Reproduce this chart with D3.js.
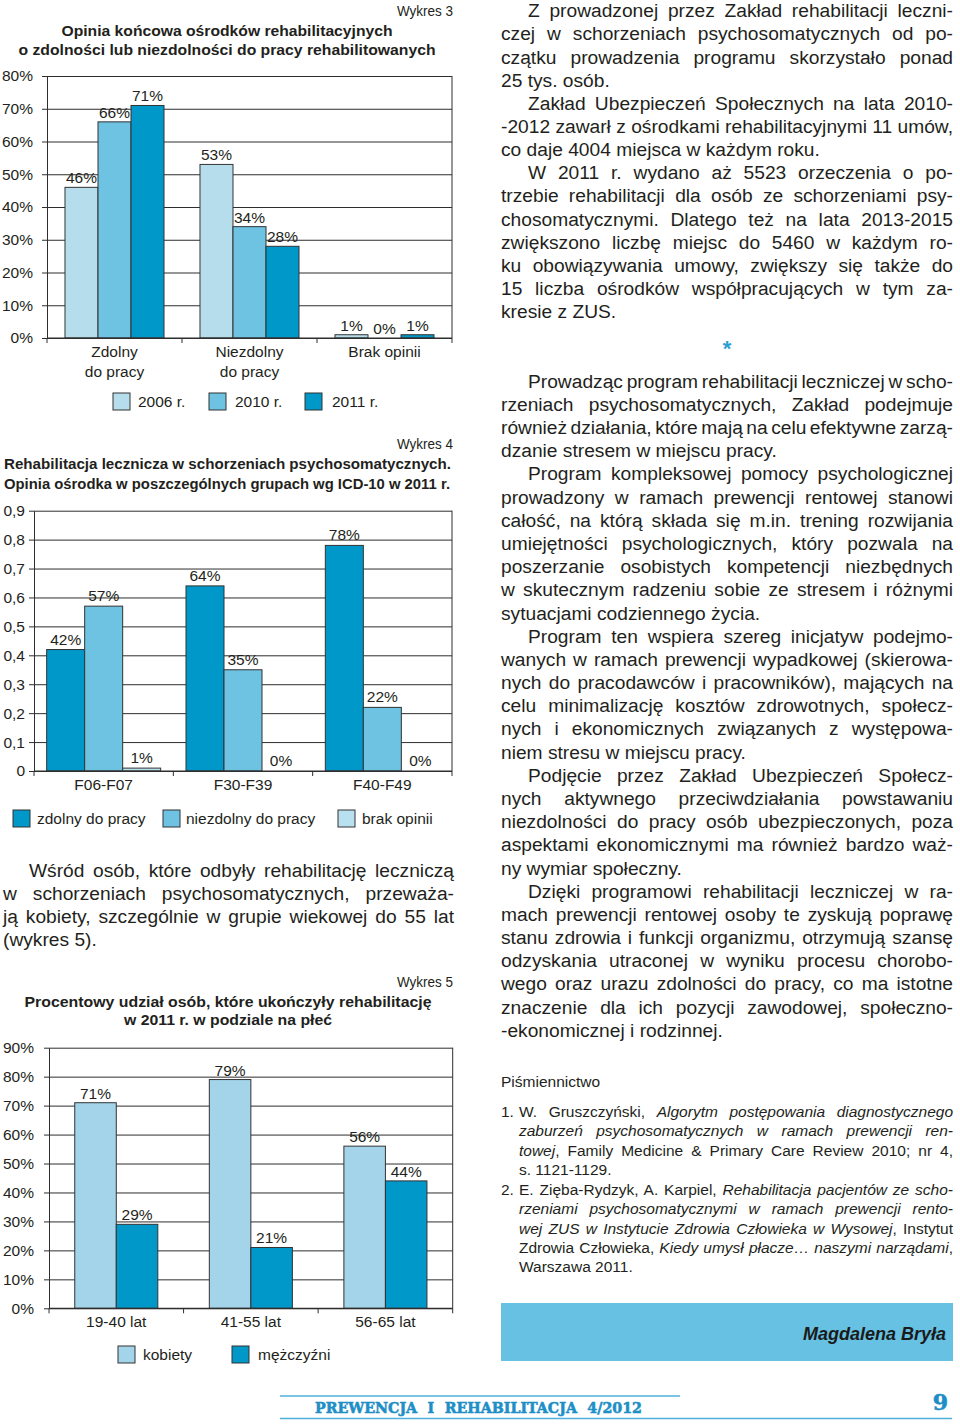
<!DOCTYPE html>
<html><head><meta charset="utf-8">
<script src="https://cdn.jsdelivr.net/npm/d3@7"></script>
<style>
html,body{margin:0;padding:0;background:#fff;}
#page{position:relative;width:960px;height:1424px;overflow:hidden;font-family:"Liberation Sans",Arial,sans-serif;color:#231f20;}
#page svg{position:absolute;left:0;top:0;}
.ln{position:absolute;white-space:pre;}
</style></head><body><div id="page"></div>
<script>
// ---------------- DATA ----------------
// Wykres 3
const w3Title = ["Opinia końcowa ośrodków rehabilitacyjnych", "o zdolności lub niezdolności do pracy rehabilitowanych"];
const w3Categories = [["Zdolny", "do pracy"], ["Niezdolny", "do pracy"], ["Brak opinii"]];
const w3Series = ["2006 r.", "2010 r.", "2011 r."];
const w3Values2006 = [46, 53, 1];
const w3Values2010 = [66, 34, 0];
const w3Values2011 = [71, 28, 1];
const w3Ticks = [0, 10, 20, 30, 40, 50, 60, 70, 80];

// Wykres 4
const w4Title = ["Rehabilitacja lecznicza w schorzeniach psychosomatycznych.", "Opinia ośrodka w poszczególnych grupach wg ICD-10 w 2011 r."];
const w4Categories = [["F06-F07"], ["F30-F39"], ["F40-F49"]];
const w4Series = ["zdolny do pracy", "niezdolny do pracy", "brak opinii"];
const w4Zdolny = [0.42, 0.64, 0.78];
const w4Niezdolny = [0.57, 0.35, 0.22];
const w4Brak = [0.01, 0, 0];
const w4Ticks = [0, 0.1, 0.2, 0.3, 0.4, 0.5, 0.6, 0.7, 0.8, 0.9];

// Wykres 5
const w5Title = ["Procentowy udział osób, które ukończyły rehabilitację", "w 2011 r. w podziale na płeć"];
const w5Categories = [["19-40 lat"], ["41-55 lat"], ["56-65 lat"]];
const w5Series = ["kobiety", "mężczyźni"];
const w5Kobiety = [71, 79, 56];
const w5Mezczyzni = [29, 21, 44];
const w5Ticks = [0, 10, 20, 30, 40, 50, 60, 70, 80, 90];

// Texts
const leftParagraph = [
  "Wśród osób, które odbyły rehabilitację leczniczą",
  "w schorzeniach psychosomatycznych, przeważa-",
  "ją kobiety, szczególnie w grupie wiekowej do 55 lat",
  "(wykres 5)."
];
const rightParagraphsA = [
  ["Z prowadzonej przez Zakład rehabilitacji leczni-", "czej w schorzeniach psychosomatycznych od po-", "czątku prowadzenia programu skorzystało ponad", "25 tys. osób."],
  ["Zakład Ubezpieczeń Społecznych na lata 2010-", "-2012 zawarł z ośrodkami rehabilitacyjnymi 11 umów,", "co daje 4004 miejsca w każdym roku."],
  ["W 2011 r. wydano aż 5523 orzeczenia o po-", "trzebie rehabilitacji dla osób ze schorzeniami psy-", "chosomatycznymi. Dlatego też na lata 2013-2015", "zwiększono liczbę miejsc do 5460 w każdym ro-", "ku obowiązywania umowy, zwiększy się także do", "15 liczba ośrodków współpracujących w tym za-", "kresie z ZUS."]
];
const rightParagraphsB = [
  ["Prowadząc program rehabilitacji leczniczej w scho-", "rzeniach psychosomatycznych, Zakład podejmuje", "również działania, które mają na celu efektywne zarzą-", "dzanie stresem w miejscu pracy."],
  ["Program kompleksowej pomocy psychologicznej", "prowadzony w ramach prewencji rentowej stanowi", "całość, na którą składa się m.in. trening rozwijania", "umiejętności psychologicznych, który pozwala na", "poszerzanie osobistych kompetencji niezbędnych", "w skutecznym radzeniu sobie ze stresem i różnymi", "sytuacjami codziennego życia."],
  ["Program ten wspiera szereg inicjatyw podejmo-", "wanych w ramach prewencji wypadkowej (skierowa-", "nych do pracodawców i pracowników), mających na", "celu minimalizację kosztów zdrowotnych, społecz-", "nych i ekonomicznych związanych z występowa-", "niem stresu w miejscu pracy."],
  ["Podjęcie przez Zakład Ubezpieczeń Społecz-", "nych aktywnego przeciwdziałania powstawaniu", "niezdolności do pracy osób ubezpieczonych, poza", "aspektami ekonomicznymi ma również bardzo waż-", "ny wymiar społeczny."],
  ["Dzięki programowi rehabilitacji leczniczej w ra-", "mach prewencji rentowej osoby te zyskują poprawę", "stanu zdrowia i funkcji organizmu, otrzymują szansę", "odzyskania utraconej w wyniku procesu chorobo-", "wego oraz urazu zdolności do pracy, co ma istotne", "znaczenie dla ich pozycji zawodowej, społeczno-", "-ekonomicznej i rodzinnej."]
];
const referencesHeading = "Piśmiennictwo";
const references = [
  ["1.", [
    [["W. Gruszczyński, ", 0], ["Algorytm postępowania diagnostycznego", 1]],
    [["zaburzeń psychosomatycznych w ramach prewencji ren-", 1]],
    [["towej", 1], [", Family Medicine & Primary Care Review 2010; nr 4,", 0]],
    [["s. 1121-1129.", 0]]
  ]],
  ["2.", [
    [["E. Zięba-Rydzyk, A. Karpiel, ", 0], ["Rehabilitacja pacjentów ze scho-", 1]],
    [["rzeniami psychosomatycznymi w ramach prewencji rento-", 1]],
    [["wej ZUS w Instytucie Zdrowia Człowieka w Wysowej", 1], [", Instytut", 0]],
    [["Zdrowia Człowieka, ", 0], ["Kiedy umysł płacze… naszymi narządami", 1], [",", 0]],
    [["Warszawa 2011.", 0]]
  ]]
];
const authorName = "Magdalena Bryła";
const footerText = "PREWENCJA I REHABILITACJA 4/2012";
const pageNumber = "9";

// ---------------- RENDER ----------------
const FONT = "'Liberation Sans', Arial, sans-serif";
const NARROW = "'Liberation Sans Narrow', 'Liberation Sans', Arial, sans-serif";
const TXT = "#231f20";
const GRID = "#2e2e2e";
const page = d3.select("#page");
const svg = page.append("svg").attr("width", 960).attr("height", 1424);

function drawChart(o) {
  const g = svg.append("g");
  const n = o.categories.length;
  const x0 = d3.scaleBand().domain(d3.range(n)).range([o.left, o.right]).padding(0);
  const x1 = d3.scaleBand().domain(d3.range(o.series.length)).range([0, x0.bandwidth()])
    .paddingInner(0).paddingOuter(o.pad);
  const y = d3.scaleLinear().domain([0, o.yMax]).range([o.bottom, o.top]);

  // Wykres label
  g.append("text").attr("x", 453).attr("y", o.wykresY).attr("text-anchor", "end")
    .attr("font-family", NARROW).attr("font-size", 15.5).attr("fill", TXT)
    .attr("textLength", 56).attr("lengthAdjust", "spacingAndGlyphs").text(o.wykres);
  // title
  o.title.forEach((t, i) => {
    g.append("text").attr("x", o.titleX).attr("y", o.titleY[i])
      .attr("text-anchor", o.titleAnchor).attr("font-family", FONT).attr("font-weight", "bold")
      .attr("font-size", 15.5).attr("fill", TXT)
      .attr("textLength", o.titleW[i]).attr("lengthAdjust", "spacingAndGlyphs").text(t);
  });

  // gridlines
  g.append("g").attr("transform", `translate(${o.left},0)`)
    .call(d3.axisLeft(y).tickValues(o.ticks).tickSize(-(o.right - o.left)).tickSizeOuter(0).tickFormat(""))
    .call(s => s.select(".domain").remove())
    .call(s => s.selectAll("line").attr("stroke", GRID).attr("stroke-width", 1));
  // left axis
  g.append("g").attr("transform", `translate(${o.left},0)`)
    .call(d3.axisLeft(y).tickValues(o.ticks).tickSize(5).tickSizeOuter(0).tickPadding(o.tickPad).tickFormat(o.tickFmt))
    .call(s => {
      s.attr("font-family", null).attr("font-size", null);
      s.select(".domain").attr("stroke", GRID);
      s.selectAll("line").attr("stroke", GRID);
      s.selectAll("text").attr("font-family", FONT).attr("font-size", 15.5).attr("fill", TXT);
    });
  // right border
  g.append("line").attr("x1", o.right).attr("x2", o.right).attr("y1", y(o.yMax)).attr("y2", y(0))
    .attr("stroke", GRID);

  // bars
  o.series.forEach((s, si) => {
    g.append("g").selectAll("rect").data(o.values[si]).join("rect")
      .attr("x", (d, ci) => x0(ci) + x1(si))
      .attr("y", d => y(d))
      .attr("width", x1.bandwidth())
      .attr("height", d => y(0) - y(d))
      .attr("fill", o.colors[si]).attr("stroke", "#333").attr("stroke-width", 1);
    g.append("g").selectAll("text").data(o.values[si]).join("text")
      .attr("x", (d, ci) => x0(ci) + x1(si) + x1.bandwidth() / 2)
      .attr("y", d => y(d) - o.labelGap)
      .attr("text-anchor", "middle").attr("font-family", FONT).attr("font-size", 15.5).attr("fill", TXT)
      .text(d => o.valFmt(d));
  });

  // bottom axis line + boundary ticks
  const bx = d3.range(n + 1).map(i => i < n ? x0(i) : x0(n - 1) + x0.bandwidth());
  g.append("line").attr("x1", o.left).attr("x2", o.right).attr("y1", y(0)).attr("y2", y(0))
    .attr("stroke", GRID).attr("stroke-width", 1.2);
  g.append("g").selectAll("line").data(bx).join("line")
    .attr("x1", d => d).attr("x2", d => d).attr("y1", y(0)).attr("y2", y(0) + 5).attr("stroke", GRID);
  // category labels
  const cl = g.append("g").selectAll("text").data(o.categories).join("text")
    .attr("text-anchor", "middle").attr("font-family", FONT).attr("font-size", 15.5).attr("fill", TXT);
  cl.each(function (lines, ci) {
    d3.select(this).selectAll("tspan").data(lines).join("tspan")
      .attr("x", x0(ci) + x0.bandwidth() / 2)
      .attr("y", (d, li) => o.catY + li * 19.5)
      .text(d => d);
  });

  // legend
  o.series.forEach((s, si) => {
    g.append("rect").attr("x", o.legendSwatchX[si]).attr("y", o.legendY).attr("width", 17).attr("height", 17)
      .attr("fill", o.colors[si]).attr("stroke", "#333");
    g.append("text").attr("x", o.legendTextX[si]).attr("y", o.legendY + 14)
      .attr("font-family", FONT).attr("font-size", 15.5).attr("fill", TXT).text(s);
  });
}

const pct = d => d + "%";

drawChart({
  wykres: "Wykres 3", wykresY: 16,
  title: w3Title, titleX: 227, titleY: [36, 54.5], titleAnchor: "middle", titleW: [331, 417],
  categories: w3Categories, series: w3Series,
  values: [w3Values2006, w3Values2010, w3Values2011],
  colors: ["#b6ddec", "#6dc3e1", "#0097c9"],
  yMax: 80, ticks: w3Ticks, tickFmt: pct, valFmt: pct, labelGap: 4,
  left: 47, right: 452, top: 76, bottom: 338, tickPad: 9, pad: 0.545,
  catY: 357, legendY: 393, legendSwatchX: [113, 209, 305], legendTextX: [138, 235, 332]
});

drawChart({
  wykres: "Wykres 4", wykresY: 449,
  title: w4Title, titleX: 4, titleY: [469, 488.5], titleAnchor: "start", titleW: [447, 446],
  categories: w4Categories, series: w4Series,
  values: [w4Zdolny, w4Niezdolny, w4Brak],
  colors: ["#0097c9", "#6dc3e1", "#b9e0ef"],
  yMax: 0.9, ticks: w4Ticks,
  tickFmt: d => d === 0 ? "0" : d3.format(".1f")(d).replace(".", ","),
  valFmt: d3.format(".0%"), labelGap: 5,
  left: 34, right: 452, top: 510.7, bottom: 771, tickPad: 4, pad: 0.333,
  catY: 790, legendY: 810, legendSwatchX: [13, 163, 338], legendTextX: [37, 186, 362]
});

drawChart({
  wykres: "Wykres 5", wykresY: 987,
  title: w5Title, titleX: 228, titleY: [1006.5, 1025], titleAnchor: "middle", titleW: [407, 208],
  categories: w5Categories, series: w5Series,
  values: [w5Kobiety, w5Mezczyzni],
  colors: ["#a3d4ea", "#0097c9"],
  yMax: 90, ticks: w5Ticks, tickFmt: pct, valFmt: pct, labelGap: 4,
  left: 49, right: 452.7, top: 1047.7, bottom: 1308.3, tickPad: 10, pad: 0.62,
  catY: 1327, legendY: 1346, legendSwatchX: [118, 232], legendTextX: [143, 258]
});

// ---- justified text lines (HTML) ----
function textLine(x, base, width, fs, parts, justify, extra) {
  const div = page.append("div").attr("class", "ln")
    .style("left", x + "px").style("top", (base - 0.8465 * fs) + "px")
    .style("font-size", fs + "px").style("line-height", fs + "px");
  if (extra) Object.entries(extra).forEach(([k, v]) => div.style(k, v));
  parts.forEach(([t, it]) => div.append("span").style("font-style", it ? "italic" : "normal").text(t));
  if (justify) {
    const nat = div.node().getBoundingClientRect().width;
    const txt = parts.map(p => p[0]).join("");
    const cnt = (txt.match(/ /g) || []).length;
    if (cnt > 0) div.style("word-spacing", ((width - nat) / cnt) + "px");
  }
}
function paragraphs(paras, x, right, base0, step, fs, indent) {
  let k = 0;
  paras.forEach(p => {
    p.forEach((line, li) => {
      const lx = li === 0 ? x + indent : x;
      textLine(lx, base0 + k * step, right - lx, fs, [[line, 0]], li < p.length - 1);
      k++;
    });
  });
}

paragraphs([leftParagraph], 3, 454, 877, 23.2, 19.2, 26);
paragraphs(rightParagraphsA, 501, 953, 17.5, 23.15, 19.2, 27);
paragraphs(rightParagraphsB, 501, 953, 388, 23.18, 19.2, 27);

// asterisk
svg.append("text").attr("x", 727).attr("y", 356).attr("text-anchor", "middle")
  .attr("font-family", FONT).attr("font-weight", "bold").attr("font-size", 22).attr("fill", "#2a9fd2").text("*");

// references
textLine(501, 1087, 0, 15.5, [[referencesHeading, 0]], false);
let rk = 0;
references.forEach(([num, lines]) => {
  lines.forEach((parts, li) => {
    const b = 1117 + rk * 19.45;
    if (li === 0) textLine(501, b, 0, 15.5, [[num, 0]], false);
    textLine(519, b, 953 - 519, 15.5, parts, li < lines.length - 1);
    rk++;
  });
});

// author box
svg.append("rect").attr("x", 501).attr("y", 1303).attr("width", 452).attr("height", 58).attr("fill", "#67c1e2");
svg.append("text").attr("x", 946).attr("y", 1340).attr("text-anchor", "end")
  .attr("font-family", FONT).attr("font-weight", "bold").attr("font-style", "italic")
  .attr("font-size", 18).attr("fill", "#1a1a1a").text(authorName);

// footer
svg.append("line").attr("x1", 280).attr("x2", 680).attr("y1", 1396).attr("y2", 1396)
  .attr("stroke", "#4fb0db").attr("stroke-width", 1.5);
svg.append("line").attr("x1", 280).attr("x2", 952).attr("y1", 1418.5).attr("y2", 1418.5)
  .attr("stroke", "#4fb0db").attr("stroke-width", 1.5);
svg.append("text").attr("x", 315).attr("y", 1412.5)
  .attr("font-family", "'DejaVu Serif', serif").attr("font-weight", "bold").attr("font-size", 15.5)
  .attr("fill", "#1e8fc6").attr("stroke", "#1e8fc6").attr("stroke-width", 0.6)
  .attr("textLength", 327).attr("lengthAdjust", "spacingAndGlyphs")
  .style("word-spacing", "6px").text(footerText);
svg.append("text").attr("x", 948).attr("y", 1410).attr("text-anchor", "end")
  .attr("font-family", "'DejaVu Serif', serif").attr("font-weight", "bold").attr("font-size", 22)
  .attr("fill", "#1e8fc6").attr("stroke", "#1e8fc6").attr("stroke-width", 0.6).text(pageNumber);
</script></body></html>
